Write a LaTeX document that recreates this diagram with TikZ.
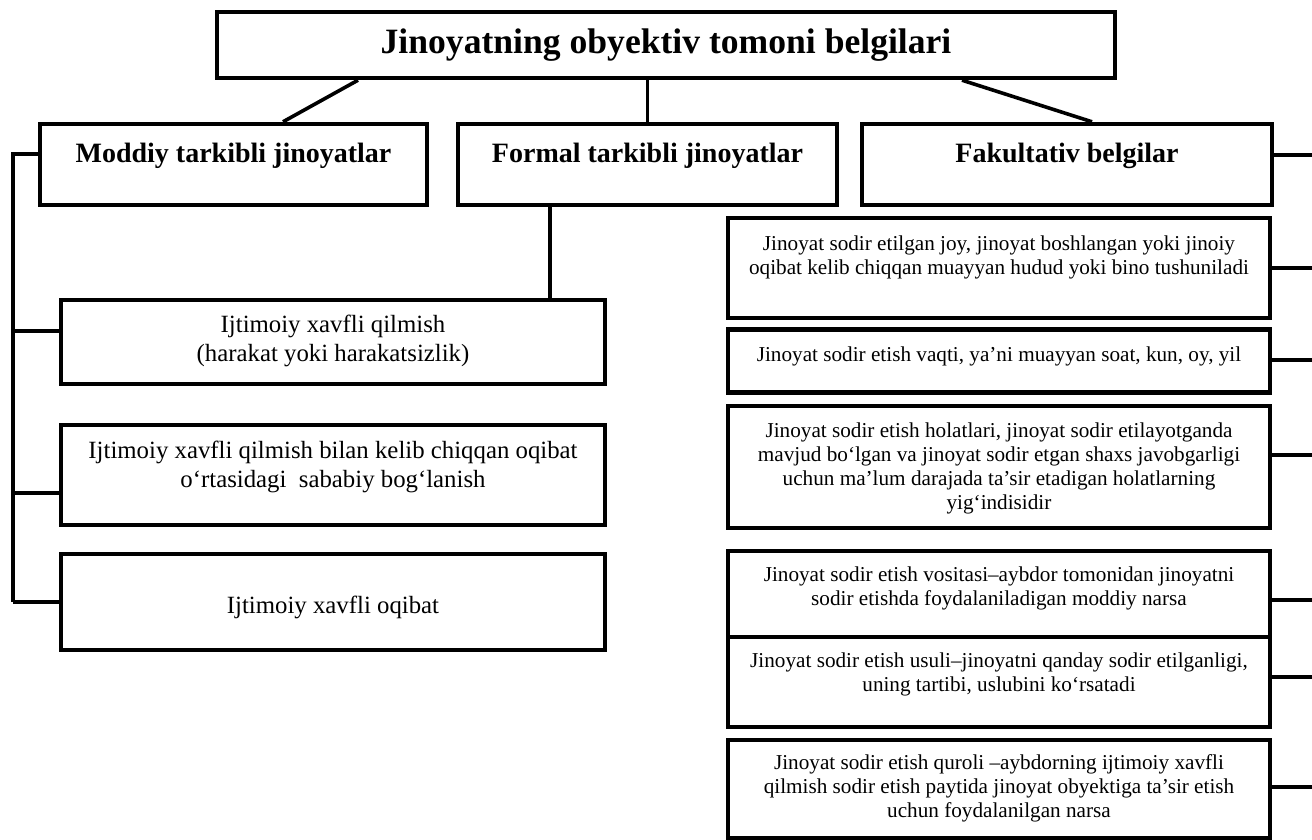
\documentclass[tikz,border=0pt]{standalone}
\usepackage{fontspec}
\setmainfont{Liberation Serif}
\begin{document}
\begin{tikzpicture}[x=0.5pt,y=-0.5pt,
  box/.style={draw,line width=2.2pt,inner sep=0pt},
  link/.style={line width=1.8pt},
  head/.style={font=\fontsize{14}{16}\selectfont\bfseries},
  ltext/.style={align=center,font=\fontsize{12.4}{14.5}\selectfont},
  rtext/.style={align=center,font=\fontsize{10.6}{12}\selectfont}]
\useasboundingbox (0,0) rectangle (1312,840);

\node[box,minimum width=449pt,minimum height=33pt,font=\fontsize{17.8}{20}\selectfont\bfseries] (title) at (666,45) {Jinoyatning obyektiv tomoni belgilari};

\foreach \nm/\x/\w/\txt in {moddiy/233.5/387/Moddiy tarkibli jinoyatlar,formal/647.5/379/Formal tarkibli jinoyatlar,fakult/1067/410/Fakultativ belgilar}{
\node[box,minimum width=\w*0.5pt,minimum height=40.5pt] (\nm) at (\x,164.5) {};
\node[head] (\nm-t) at (\x,156) {\txt};
}

\draw[link] ([xshift=-154pt]title.south) -- ([xshift=24.75pt]moddiy.north);
\draw[link] (title.south -| formal.north) -- (formal.north);
\draw[link] ([xshift=148pt]title.south) -- ([xshift=12.5pt]fakult.north);

\foreach \nm/\yb/\h/\yt/\ys/\txt in {
ijt1/342/84/341/331/{Ijtimoiy xavfli qilmish\\(harakat yoki harakatsizlik)},
ijt2/475/100/467/493/{Ijtimoiy xavfli qilmish bilan kelib chiqqan oqibat\\o‘rtasidagi\ \ sababiy bog‘lanish},
ijt3/602/96/607/602/{Ijtimoiy xavfli oqibat}}{
\node[box,minimum width=272pt,minimum height=\h*0.5pt] (\nm) at (333,\yb) {};
\node[ltext] (\nm-t) at (333,\yt) {\txt};
\coordinate (\nm-s) at (13,\ys);
\draw[link] (\nm.west |- \nm-s) -- (\nm-s);
}

\coordinate (bus-t) at (13,154);
\draw[link] (moddiy.west |- bus-t) -- (bus-t) -- (ijt3-s);
\draw[link] ([xshift=-48.75pt]formal.south) -- ([xshift=-48.75pt]formal.south |- ijt1.north);

\coordinate (fakult-s) at (1312,155);
\draw[link] (fakult.east |- fakult-s) -- (fakult-s);

\foreach \nm/\yb/\h/\yt/\ys/\txt in {
joy/268/100/257/268/{Jinoyat sodir etilgan joy, jinoyat boshlangan yoki jinoiy\\oqibat kelib chiqqan muayyan hudud yoki bino tushuniladi},
vaqt/361/63/356/360/{Jinoyat sodir etish vaqti, ya’ni muayyan soat, kun, oy, yil},
holat/467/122/468/455/{Jinoyat sodir etish holatlari, jinoyat sodir etilayotganda\\mavjud bo‘lgan va jinoyat sodir etgan shaxs javobgarligi\\uchun ma’lum darajada ta’sir etadigan holatlarning\\yig‘indisidir},
vosita/594/86/588/600/{Jinoyat sodir etish vositasi–aybdor tomonidan jinoyatni\\sodir etishda foydalaniladigan moddiy narsa},
usul/682/90/674/677/{Jinoyat sodir etish usuli–jinoyatni qanday sodir etilganligi,\\uning tartibi, uslubini ko‘rsatadi},
qurol/789/98/788/787/{Jinoyat sodir etish quroli –aybdorning ijtimoiy xavfli\\qilmish sodir etish paytida jinoyat obyektiga ta’sir etish\\uchun foydalanilgan narsa}}{
\node[box,minimum width=271pt,minimum height=\h*0.5pt] (\nm) at (999,\yb) {};
\node[rtext] (\nm-t) at (999,\yt) {\txt};
\coordinate (\nm-s) at (1312,\ys);
\draw[link] (\nm.east |- \nm-s) -- (\nm-s);
}

\end{tikzpicture}
\end{document}
